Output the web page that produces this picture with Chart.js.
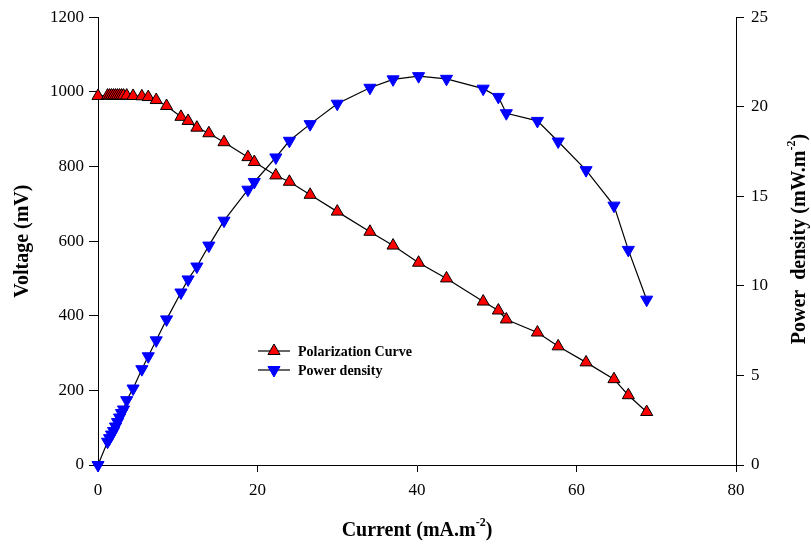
<!DOCTYPE html>
<html>
<head>
<meta charset="utf-8">
<script src="https://cdn.jsdelivr.net/npm/chart.js@4.4.1/dist/chart.umd.min.js"></script>
<style>
  html, body { margin: 0; padding: 0; background: #fff; }
  #wrap { width: 811px; height: 545px; }
</style>
</head>
<body>
<div id="wrap"><canvas id="fuelcell"></canvas></div>
<script>
// Current density (mA.m-2), shared by both curves
var current = [0, 1.2, 1.45, 1.7, 1.95, 2.2, 2.45, 2.7, 2.95, 3.2,
  3.6, 4.4, 5.5, 6.3, 7.3, 8.6, 10.4, 11.3, 12.4, 13.9,
  15.8, 18.8, 19.6, 22.3, 24.0, 26.6, 30.0, 34.1, 37.0, 40.2,
  43.7, 48.3, 50.2, 51.2, 55.1, 57.7, 61.2, 64.7, 66.5, 68.8];

// Polarization curve, voltage in mV
var voltage = [989, 990, 990, 990, 990, 990, 990, 990, 990, 990,
  990, 989, 988, 986, 978, 962, 933, 922, 904, 889,
  865, 825, 812, 776, 759, 724, 679, 625, 588, 542,
  500, 438, 414, 390, 355, 318, 275, 230, 187, 142];

// Power density, mW.m-2
var power = [0, 1.30, 1.50, 1.70, 1.90, 2.15, 2.40, 2.65, 2.90, 3.10,
  3.62, 4.27, 5.35, 6.07, 6.96, 8.13, 9.63, 10.36, 11.08, 12.25,
  13.64, 15.37, 15.80, 17.17, 18.10, 19.03, 20.17, 21.06, 21.53, 21.71,
  21.56, 21.01, 20.55, 19.64, 19.21, 18.06, 16.46, 14.48, 12.01, 9.23];

var seriesNames = ['Polarization Curve', 'Power density'];

function toPoints(xs, ys) {
  var pts = [];
  for (var i = 0; i < xs.length; i++) {
    pts.push({ x: xs[i], y: ys[i] });
  }
  return pts;
}

var serif = "'Liberation Serif', 'DejaVu Serif', serif";

// draws "text" then a small raised "sup" and the rest
function drawSupText(ctx, parts, size) {
  ctx.font = 'bold ' + size + 'px ' + serif;
  var w0 = ctx.measureText(parts[0]).width;
  ctx.font = 'bold ' + Math.round(size * 0.62) + 'px ' + serif;
  var w1 = parts[1] ? ctx.measureText(parts[1]).width : 0;
  ctx.font = 'bold ' + size + 'px ' + serif;
  var w2 = parts[2] ? ctx.measureText(parts[2]).width : 0;
  var x = -(w0 + w1 + w2) / 2;
  ctx.textBaseline = 'middle';
  ctx.textAlign = 'left';
  ctx.fillText(parts[0], x, 0);
  if (parts[1]) {
    ctx.font = 'bold ' + Math.round(size * 0.62) + 'px ' + serif;
    ctx.fillText(parts[1], x + w0, -size * 0.38);
    ctx.font = 'bold ' + size + 'px ' + serif;
  }
  if (parts[2]) ctx.fillText(parts[2], x + w0 + w1, 0);
}

var titlesAndLegend = {
  id: 'titlesAndLegend',
  afterDraw: function(chart) {
    var ctx = chart.ctx;
    var area = chart.chartArea;
    var midY = (area.top + area.bottom) / 2;
    ctx.save();
    ctx.fillStyle = '#000';

    // x title
    ctx.save();
    ctx.translate((area.left + area.right) / 2, 531);
    drawSupText(ctx, ['Current (mA.m', '-2', ')'], 20);
    ctx.restore();

    // left title
    ctx.save();
    ctx.translate(23, midY);
    ctx.rotate(-Math.PI / 2);
    drawSupText(ctx, ['Voltage (mV)'], 20);
    ctx.restore();

    // right title, reads bottom to top like the left one
    ctx.save();
    ctx.translate(800, midY - 2);
    ctx.rotate(-Math.PI / 2);
    drawSupText(ctx, ['Power  density (mW.m', '-2', ')'], 20);
    ctx.restore();

    // legend inside the plot
    var rows = [351, 370];
    for (var i = 0; i < 2; i++) {
      var ds = chart.data.datasets[i];
      var y = rows[i];
      ctx.strokeStyle = '#000';
      ctx.lineWidth = 1.2;
      ctx.beginPath();
      ctx.moveTo(258, y);
      ctx.lineTo(290, y);
      ctx.stroke();
      ctx.fillStyle = ds.pointBackgroundColor;
      ctx.strokeStyle = ds.pointBorderColor;
      ctx.lineWidth = ds.pointBorderWidth;
      Chart.helpers.drawPoint(ctx, {
        pointStyle: 'triangle',
        radius: ds.pointRadius,
        rotation: ds.pointRotation,
        borderWidth: ds.pointBorderWidth
      }, 274, y);
      ctx.fillStyle = '#000';
      ctx.font = 'bold 14px ' + serif;
      ctx.textAlign = 'left';
      ctx.textBaseline = 'middle';
      ctx.fillText(seriesNames[i], 298, y + 1);
    }
    ctx.restore();
  }
};

var tickFont = { family: serif, size: 17 };
function plainTick(v) { return String(v); }

new Chart(document.getElementById('fuelcell').getContext('2d'), {
  type: 'line',
  data: {
    datasets: [{
      label: seriesNames[0],
      data: toPoints(current, voltage),
      yAxisID: 'yV',
      borderColor: '#000',
      borderWidth: 1.2,
      pointStyle: 'triangle',
      pointRadius: 7,
      pointRotation: 0,
      pointBackgroundColor: '#ff0000',
      pointBorderColor: '#000',
      pointBorderWidth: 1,
      tension: 0,
      clip: false
    }, {
      label: seriesNames[1],
      data: toPoints(current, power),
      yAxisID: 'yP',
      borderColor: '#000',
      borderWidth: 1.2,
      pointStyle: 'triangle',
      pointRadius: 7,
      pointRotation: 180,
      pointBackgroundColor: '#0000ff',
      pointBorderColor: '#0000ff',
      pointBorderWidth: 1,
      tension: 0,
      clip: false
    }]
  },
  options: {
    responsive: true,
    maintainAspectRatio: false,
    animation: false,
    layout: { padding: { top: 16, left: 0, right: 0, bottom: 0 } },
    plugins: {
      legend: { display: false },
      tooltip: { enabled: false }
    },
    scales: {
      x: {
        type: 'linear',
        min: 0, max: 80,
        ticks: { stepSize: 20, color: '#000', font: tickFont, padding: 8, maxRotation: 0, callback: plainTick },
        grid: { display: true, drawOnChartArea: false, drawTicks: true, tickLength: 7, color: '#000' },
        border: { display: true, color: '#000', width: 1 },
        afterFit: function(s) { s.height = 80; }
      },
      yV: {
        type: 'linear',
        position: 'left',
        min: 0, max: 1200,
        ticks: { stepSize: 200, color: '#000', font: tickFont, padding: 5, callback: plainTick },
        grid: { display: true, drawOnChartArea: false, drawTicks: true, tickLength: 9, color: '#000' },
        border: { display: true, color: '#000', width: 1 },
        afterFit: function(s) { s.width = 98; }
      },
      yP: {
        type: 'linear',
        position: 'right',
        min: 0, max: 25,
        ticks: { stepSize: 5, color: '#000', font: tickFont, padding: 7, callback: plainTick },
        grid: { display: true, drawOnChartArea: false, drawTicks: true, tickLength: 8, color: '#000' },
        border: { display: true, color: '#000', width: 1 },
        afterFit: function(s) { s.width = 75; }
      }
    }
  },
  plugins: [titlesAndLegend]
});
</script>
</body>
</html>
